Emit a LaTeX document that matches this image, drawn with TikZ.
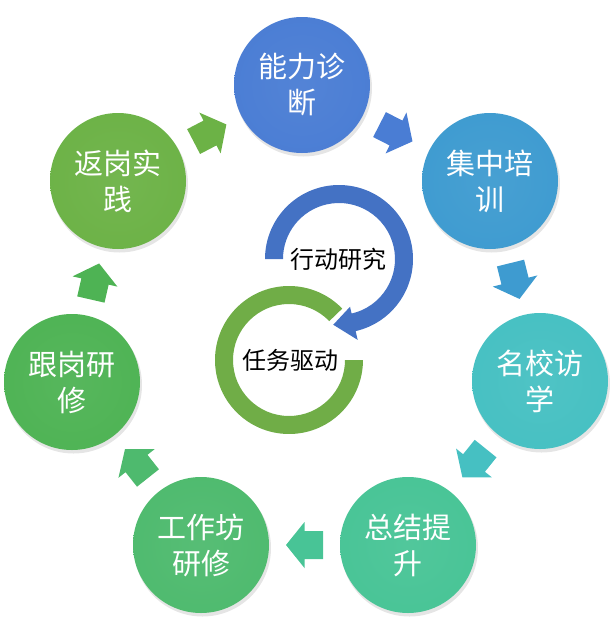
\documentclass[tikz,border=0pt]{standalone}
\usepackage{fontspec}
\newfontfamily\cjk{Noto Sans CJK SC}
\usetikzlibrary{calc}
\definecolor{cA}{RGB}{74,125,212}
\definecolor{cB}{RGB}{62,155,208}
\definecolor{cC}{RGB}{70,192,194}
\definecolor{cD}{RGB}{72,196,150}
\definecolor{cE}{RGB}{78,186,110}
\definecolor{cF}{RGB}{78,179,84}
\definecolor{cG}{RGB}{108,178,70}
\definecolor{arcblue}{RGB}{68,114,196}
\definecolor{arcgreen}{RGB}{112,173,71}
\newcommand{\defball}[2]{%
  \pgfdeclareradialshading{ball#1}{\pgfpoint{0bp}{0bp}}{%
    color(0bp)=(#2!95!white); color(30bp)=(#2); color(43bp)=(#2!96!black);
    color(46bp)=(#2!70!white); color(48.5bp)=(#2!82!white); color(50bp)=(#2!75!black)}}
\defball{A}{cA}\defball{B}{cB}\defball{C}{cC}\defball{D}{cD}
\defball{E}{cE}\defball{F}{cF}\defball{G}{cG}
\newcommand{\blkarrow}[3]{%
  \coordinate (m) at ($(#1)!0.5!(#2)$);
  \pgfmathanglebetweenpoints{\pgfpointanchor{#1}{center}}{\pgfpointanchor{#2}{center}}%
  \let\arrang\pgfmathresult
  \fill[#3, shift={(m)}, rotate=\arrang] (-18.5,-14) -- (0,-14) -- (0,-23) -- (18.5,0)
    -- (0,23) -- (0,14) -- (-18.5,14) -- cycle;
}
\begin{document}
\begin{tikzpicture}[x=1pt,y=1pt,
  ballnode/.style={circle, minimum size=136pt, inner sep=0pt, align=center,
    text=white, font=\cjk\fontsize{29}{36}\selectfont},
  ballshadow/.style={black, opacity=0.10},
  centerlabel/.style={font=\cjk\fontsize{24}{28}\selectfont, text=black, inner sep=0pt}]
\useasboundingbox (0,0) rectangle (611,-622);
% shadows
\foreach \x/\y in {302/85,490/181,540/381,408/545,201/545,72/382,118/181}
  \fill[ballshadow] (\x+1.5,-\y-3) circle (68.5);
% circles
\node[ballnode, shade, shading=ballA] (n1) at (302,-85)  {能力诊\\断};
\node[ballnode, shade, shading=ballB] (n2) at (490,-181) {集中培\\训};
\node[ballnode, shade, shading=ballC] (n3) at (540,-381) {名校访\\学};
\node[ballnode, shade, shading=ballD] (n4) at (408,-545) {总结提\\升};
\node[ballnode, shade, shading=ballE] (n5) at (201,-545) {工作坊\\研修};
\node[ballnode, shade, shading=ballF] (n6) at (72,-382)  {跟岗研\\修};
\node[ballnode, shade, shading=ballG] (n7) at (118,-181) {返岗实\\践};
% block arrows
\blkarrow{n7}{n1}{cG}
\blkarrow{n1}{n2}{cA}
\blkarrow{n2}{n3}{cB}
\blkarrow{n3}{n4}{cC}
\blkarrow{n4}{n5}{cD}
\blkarrow{n5}{n6}{cE}
\blkarrow{n6}{n7}{cF}
% centre arcs
\coordinate (bc) at (339,-259);
\coordinate (gc) at (289,-360);
\fill[arcblue] ($(bc)+(180:74)$) arc[start angle=180, end angle=-77, radius=74]
  -- ($(bc)+(-77:83)$) -- ($(bc)+(-95:66)$) -- ($(bc)+(-77:49)$)
  -- ($(bc)+(-77:56)$) arc[start angle=-77, end angle=180, radius=56] -- cycle;
\fill[arcgreen] ($(gc)+(44:74)$) arc[start angle=44, end angle=360, radius=74]
  -- ($(gc)+(0:56)$) arc[start angle=360, end angle=44, radius=56] -- cycle;
\node[centerlabel] (t1) at (338,-259) {行动研究};
\node[centerlabel] (t2) at (290,-360) {任务驱动};
\end{tikzpicture}
\end{document}
